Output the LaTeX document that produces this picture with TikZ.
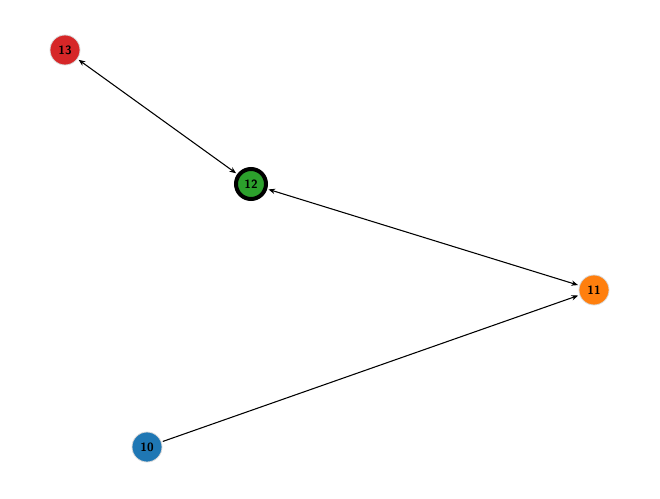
\documentclass[tikz,border=0pt]{standalone}
\usetikzlibrary{arrows.meta}
\definecolor{tabblue}{HTML}{1F77B4}
\definecolor{taborange}{HTML}{FF7F0E}
\definecolor{tabgreen}{HTML}{2CA02C}
\definecolor{tabred}{HTML}{D62728}
\tikzset{
  vertex/.style={circle, minimum size=22.5pt, inner sep=0pt, draw=black!15, line width=0.6pt, font=\sffamily\bfseries\small},
  link/.style={-{Stealth[length=5pt,width=4pt]}, line width=0.8pt, shorten >=1pt, shorten <=1pt}
}
\begin{document}
\begin{tikzpicture}[x=0.75pt,y=-0.75pt]
\useasboundingbox (0,0) rectangle (660,499);
\node [vertex, fill=tabred] (n13) at (65,50) {13};
\node [vertex, fill=tabgreen, draw=black, line width=3pt] (n12) at (251,184) {12};
\node [vertex, fill=taborange] (n11) at (594,290) {11};
\node [vertex, fill=tabblue] (n10) at (147,447) {10};
\draw [link, {Stealth[length=5pt,width=4pt]}-{Stealth[length=5pt,width=4pt]}] (n13) -- (n12);
\draw [link, {Stealth[length=5pt,width=4pt]}-{Stealth[length=5pt,width=4pt]}] (n12) -- (n11);
\draw [link] (n10) -- (n11);
\end{tikzpicture}
\end{document}
